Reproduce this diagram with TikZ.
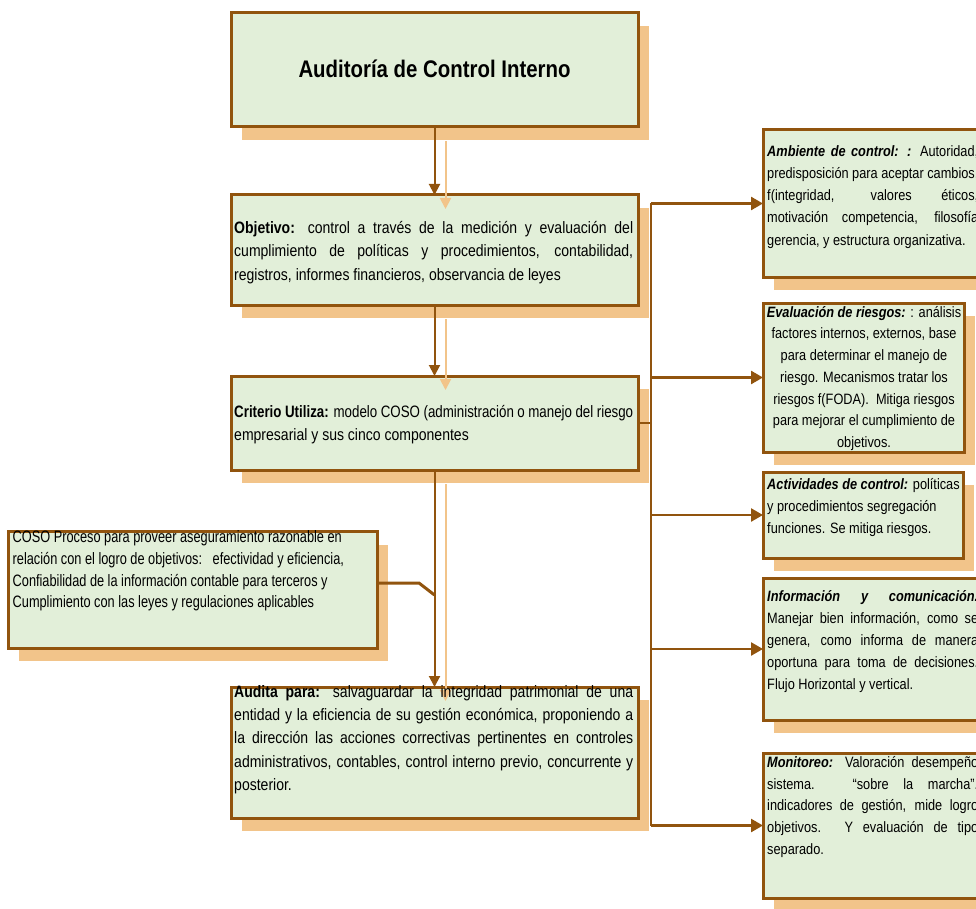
\documentclass[tikz,border=0pt]{standalone}
\usepackage{fontspec}
\usepackage{graphicx}
\setmainfont{Liberation Sans}[FakeStretch=0.85]
\usetikzlibrary{arrows.meta}
\definecolor{brd}{RGB}{145,84,14}
\definecolor{shd}{RGB}{242,196,138}
\definecolor{fil}{RGB}{226,239,217}
\newcommand{\jl}[2]{\makebox[#1][s]{#2}}
\newcommand{\st}{\rule{0pt}{14pt}}
\begin{document}
\begin{tikzpicture}[x=1pt,y=-1pt,
  box/.style={draw=brd, line width=3pt, fill=fil, rectangle, inner sep=0pt, outer sep=0pt, anchor=north west},
  shadowfill/.style={fill=shd},
  txt/.style={inner sep=0pt, anchor=north west, align=left},
  mainfont/.style={font=\fontsize{16.5}{23.4}\selectfont},
  conn/.style={draw=brd, line width=2pt},
  shconn/.style={draw=shd, line width=2pt},
  vtip/.style={-{Triangle[length=11pt,width=11pt]}},
  htip/.style={-{Triangle[length=12pt,width=13pt]}}
]
\path[use as bounding box] (0,0) rectangle (976,909);
\clip (0,0) rectangle (976,909);
% shadows
\fill[shadowfill] (242,26) rectangle (649,140);
\fill[shadowfill] (242,208) rectangle (649,318);
\fill[shadowfill] (242,389) rectangle (649,483);
\fill[shadowfill] (19,545) rectangle (388,661);
\fill[shadowfill] (242,700) rectangle (649,831);
\fill[shadowfill] (774,143) rectangle (996,290);
\fill[shadowfill] (774,316) rectangle (975,465);
\fill[shadowfill] (774,485) rectangle (974,571);
\fill[shadowfill] (774,591) rectangle (996,733);
\fill[shadowfill] (774,766) rectangle (996,911);
% boxes
\node[box, minimum width=407pt, minimum height=114pt] (title) at (231,13) {};
\node[box, minimum width=407pt, minimum height=110pt] (obj) at (231,195) {};
\node[box, minimum width=407pt, minimum height=94pt] (crit) at (231,376) {};
\node[box, minimum width=369pt, minimum height=117pt] (coso) at (8,531) {};
\node[box, minimum width=407pt, minimum height=131pt] (aud) at (231,687) {};
\node[box, minimum width=222pt, minimum height=147pt] (amb) at (763,130) {};
\node[box, minimum width=201pt, minimum height=149pt] (eval) at (763,303) {};
\node[box, minimum width=200pt, minimum height=86pt] (act) at (763,472) {};
\node[box, minimum width=222pt, minimum height=142pt] (inf) at (763,578) {};
\node[box, minimum width=222pt, minimum height=145pt] (mon) at (763,753) {};
% connector shadows
\draw[shconn, vtip] ([shift={(11,14)}]title.south) -- ([shift={(11,14)}]obj.north);
\draw[shconn, vtip] ([shift={(11,14)}]obj.south) -- ([shift={(11,14)}]crit.north);
\draw[shconn, vtip] ([shift={(11,14)}]crit.south) -- ([shift={(11,14)}]aud.north);
% main connectors
\draw[conn, vtip] (title.south) -- (obj.north);
\draw[conn, vtip] (obj.south) -- (crit.north);
\draw[conn, vtip] (crit.south) -- (aud.north);
\coordinate (cj) at (434.5,595);
\draw[draw=brd, line width=3pt] ([yshift=6.5pt]coso.east) -- ++(42,0) -- (cj);
% tree to components
\coordinate (j) at (651,423);
\draw[conn, line width=2.5pt] (crit.east) -- (j);
\draw[conn, line width=2.5pt] (j |- amb.west) -- (j |- mon.west);
\draw[conn, line width=2.5pt, htip] (j |- amb.west) -- (amb.west);
\draw[conn, line width=2.5pt, htip] (j |- eval.west) -- (eval.west);
\draw[conn, line width=2.5pt, htip] (j |- act.west) -- (act.west);
\draw[conn, line width=2.5pt, htip] (j |- inf.west) -- (inf.west);
\draw[conn, line width=2.5pt, htip] (j |- mon.west) -- (mon.west);
% texts
\node[inner sep=0pt, anchor=base, font=\fontsize{24}{28}\selectfont\bfseries] (titlet) at (434.5,78) {Auditoría de Control Interno};
\node[txt, mainfont] (objt) at (234,219) {\st\jl{399pt}{\textbf{Objetivo:} control a través de la medición y evaluación del}\\
\jl{399pt}{cumplimiento de políticas y procedimientos, contabilidad,}\\
registros, informes financieros, observancia de leyes};
\node[txt, font=\fontsize{16.5}{23}\selectfont] (critt) at (234,403) {\st\scalebox{0.95}[1]{\jl{420pt}{\textbf{Criterio Utiliza:} modelo COSO (administración o manejo del riesgo}}\\
empresarial y sus cinco componentes};
\node[txt, font=\fontsize{16.5}{21.9}\selectfont] (cosot) at (12.5,528) {\scalebox{0.91}[1]{\vtop{\baselineskip=21.9pt
\hbox{\st COSO Proceso para proveer aseguramiento razonable en}
\hbox{relación con el logro de objetivos:\ \ \ efectividad y eficiencia,}
\hbox{Confiabilidad de la información contable para terceros y}
\hbox{Cumplimiento con las leyes y regulaciones aplicables}}}};
\node[txt, font=\fontsize{16.5}{23.3}\selectfont] (audt) at (234,683) {\st\jl{399pt}{\textbf{Audita para:} salvaguardar la integridad patrimonial de una}\\
\jl{399pt}{entidad y la eficiencia de su gestión económica, proponiendo a}\\
\jl{399pt}{la dirección las acciones correctivas pertinentes en controles}\\
\jl{399pt}{administrativos, contables, control interno previo, concurrente y}\\
posterior.};
\node[txt, font=\fontsize{15}{22.2}\selectfont] (ambt) at (767,142) {\st\jl{211pt}{\textbf{\textit{Ambiente de control: :}} Autoridad,}\\
predisposición para aceptar cambios,\\
\jl{211pt}{f(integridad, valores éticos,}\\
\jl{211pt}{motivación competencia, filosofía}\\
gerencia, y estructura organizativa.};
\node[inner sep=0pt, anchor=north, align=center, font=\fontsize{15}{21.7}\selectfont] (evalt) at (864,303) {\st\textbf{\textit{Evaluación de riesgos:}} : análisis\\
factores internos, externos, base\\
para determinar el manejo de\\
riesgo. Mecanismos tratar los\\
riesgos f(FODA).\ \ Mitiga riesgos\\
para mejorar el cumplimiento de\\
objetivos.};
\node[txt, font=\fontsize{15}{22}\selectfont] (actt) at (767,475) {\st\textbf{\textit{Actividades de control:}} políticas\\
y procedimientos segregación\\
funciones. Se mitiga riesgos.};
\node[txt, font=\fontsize{15}{22.1}\selectfont] (inft) at (767,587) {\st\jl{211pt}{\textbf{\textit{Información y comunicación.}}}\\
\jl{211pt}{Manejar bien información, como se}\\
\jl{211pt}{genera, como informa de manera}\\
\jl{211pt}{oportuna para toma de decisiones.}\\
Flujo Horizontal y vertical.};
\node[txt, font=\fontsize{15}{21.8}\selectfont] (mont) at (767,753) {\st\jl{211pt}{\textbf{\textit{Monitoreo:}} Valoración desempeño}\\
\jl{211pt}{sistema. “sobre la marcha”.}\\
\jl{211pt}{indicadores de gestión, mide logro}\\
\jl{211pt}{objetivos. Y evaluación de tipo}\\
separado.};
\end{tikzpicture}
\end{document}
